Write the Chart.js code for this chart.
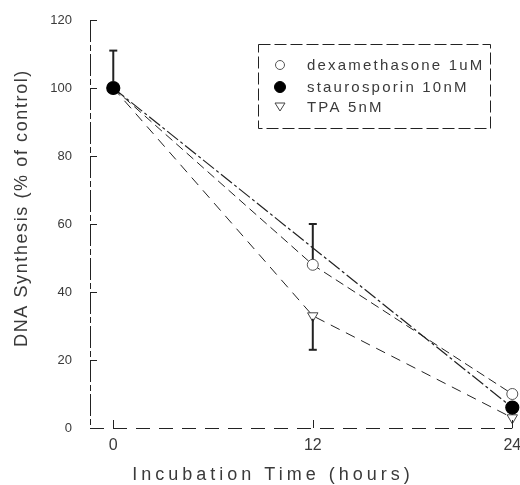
<!DOCTYPE html>
<html>
<head>
<meta charset="utf-8">
<script src="https://cdn.jsdelivr.net/npm/chart.js@4.4.1/dist/chart.umd.min.js"></script>
<style>
  html, body { margin: 0; padding: 0; background: #fff; }
  #wrap { width: 520px; height: 485px; }
</style>
</head>
<body>
<div id="wrap"><canvas id="c" width="520" height="485"></canvas></div>
<script>
// ---- data ----
const xTickValues = [0, 12, 24];
const yTickStep = 20;

const dexLabel = 'dexamethasone 1uM';
const dexHours = [0, 12, 24];
const dexValues = [100, 48, 10];
const dexErrUp = [0, 12, 0];
const dexErrDown = [0, 0, 0];

const stauroLabel = 'staurosporin 10nM';
const stauroHours = [0, 24];
const stauroValues = [100, 6];
const stauroErrUp = [11, 0];
const stauroErrDown = [0, 0];

const tpaLabel = 'TPA 5nM';
const tpaHours = [0, 12, 24];
const tpaValues = [100, 33, 3];
const tpaErrUp = [0, 0, 0];
const tpaErrDown = [0, 10, 0];

const xTitle = 'Incubation Time (hours)';
const yTitle = 'DNA Synthesis (% of control)';

const toPts = (xs, ys) => xs.map((x, i) => ({x: x, y: ys[i]}));

const INK = '#222';
const TXT = '#3a3a3a';

const datasets = [
  {
    label: stauroLabel, data: toPts(stauroHours, stauroValues),
    errUp: stauroErrUp, errDown: stauroErrDown,
    borderColor: INK, borderWidth: 1.2, borderDash: [14, 3, 3, 3],
    pointStyle: 'circle', pointRadius: 6.5, pointBackgroundColor: '#000', pointBorderColor: '#000',
    order: 0
  },
  {
    label: dexLabel, data: toPts(dexHours, dexValues),
    errUp: dexErrUp, errDown: dexErrDown,
    borderColor: INK, borderWidth: 1, borderDash: [9, 5],
    pointStyle: 'circle', pointRadius: 5.5, pointBackgroundColor: '#fff', pointBorderColor: '#555', pointBorderWidth: 1,
    order: 1
  },
  {
    label: tpaLabel, data: toPts(tpaHours, tpaValues),
    errUp: tpaErrUp, errDown: tpaErrDown,
    borderColor: INK, borderWidth: 1, borderDash: [10, 7],
    pointStyle: 'triangle', rotation: 180, pointRadius: 6, pointBackgroundColor: '#fff', pointBorderColor: '#444', pointBorderWidth: 1,
    order: 2
  }
];

const legendOrder = [1, 0, 2];

const extras = {
  id: 'extras',
  beforeDatasetsDraw(chart) {
    const ctx = chart.ctx;
    const ca = chart.chartArea;
    ctx.save();
    ctx.strokeStyle = INK; ctx.lineWidth = 1;
    // left axis (broken line)
    ctx.setLineDash([22, 3, 6, 3]);
    ctx.beginPath(); ctx.moveTo(ca.left + 0.5, ca.top); ctx.lineTo(ca.left + 0.5, ca.bottom); ctx.stroke();
    // bottom axis (dashed)
    ctx.setLineDash([14, 9]);
    ctx.beginPath(); ctx.moveTo(ca.left, ca.bottom + 0.5); ctx.lineTo(ca.right, ca.bottom + 0.5); ctx.stroke();
    ctx.restore();
  },
  afterDatasetsDraw(chart) {
    const ctx = chart.ctx;
    const xs = chart.scales.x, ys = chart.scales.y;
    const ca = chart.chartArea;
    ctx.save();
    // inward tick marks
    ctx.strokeStyle = INK; ctx.lineWidth = 1; ctx.setLineDash([]);
    ys.ticks.forEach(t => {
      const py = Math.round(ys.getPixelForValue(t.value)) + 0.5;
      ctx.beginPath(); ctx.moveTo(ca.left, py); ctx.lineTo(ca.left + 7, py); ctx.stroke();
    });
    xs.ticks.forEach(t => {
      const px = Math.round(xs.getPixelForValue(t.value)) + 0.5;
      ctx.beginPath(); ctx.moveTo(px, ca.bottom); ctx.lineTo(px, ca.bottom - 8); ctx.stroke();
    });
    // error bars
    ctx.lineWidth = 2;
    chart.data.datasets.forEach(ds => {
      ds.data.forEach((p, i) => {
        const up = ds.errUp[i], dn = ds.errDown[i];
        if (!up && !dn) return;
        const px = xs.getPixelForValue(p.x);
        const y0 = ys.getPixelForValue(p.y);
        const r = ds.pointRadius;
        if (up) {
          const y1 = ys.getPixelForValue(p.y + up);
          ctx.beginPath(); ctx.moveTo(px, y0 - r); ctx.lineTo(px, y1); ctx.stroke();
          ctx.beginPath(); ctx.moveTo(px - 4, y1); ctx.lineTo(px + 4, y1); ctx.stroke();
        }
        if (dn) {
          const y1 = ys.getPixelForValue(p.y - dn);
          ctx.beginPath(); ctx.moveTo(px, y0 + r * 0.5); ctx.lineTo(px, y1); ctx.stroke();
          ctx.beginPath(); ctx.moveTo(px - 4, y1); ctx.lineTo(px + 4, y1); ctx.stroke();
        }
      });
    });
    ctx.restore();
  },
  afterDraw(chart) {
    const ctx = chart.ctx;
    ctx.save();
    ctx.fillStyle = TXT;
    // axis titles
    ctx.font = '18px "Liberation Sans"';
    ctx.textAlign = 'center'; ctx.textBaseline = 'middle';
    ctx.letterSpacing = '4px';
    ctx.fillText(xTitle, 273, 475);
    ctx.letterSpacing = '1.6px';
    ctx.translate(22, 208); ctx.rotate(-Math.PI / 2);
    ctx.fillText(yTitle, 0, 0);
    ctx.restore();

    // legend box
    ctx.save();
    const bx = 258, by = 44, bw = 232, bh = 84;
    ctx.strokeStyle = INK; ctx.lineWidth = 1; ctx.setLineDash([12, 4]);
    ctx.strokeRect(bx + 0.5, by + 0.5, bw, bh);
    ctx.setLineDash([]);
    const rowsY = [65, 87, 107];
    ctx.font = '15px "Liberation Sans"';
    ctx.letterSpacing = '2.2px';
    ctx.textAlign = 'left'; ctx.textBaseline = 'middle'; ctx.fillStyle = TXT;
    legendOrder.forEach((di, k) => {
      const ds = chart.data.datasets[di];
      const ly = rowsY[k];
      const lx = 280;
      ctx.lineWidth = 1;
      if (ds.pointStyle === 'circle') {
        ctx.beginPath(); ctx.arc(lx, ly, ds.pointBackgroundColor === '#000' ? 5.5 : 4.5, 0, Math.PI * 2);
        ctx.fillStyle = ds.pointBackgroundColor; ctx.fill();
        ctx.strokeStyle = ds.pointBorderColor; ctx.stroke();
      } else {
        ctx.beginPath(); ctx.moveTo(lx - 5, ly - 4); ctx.lineTo(lx + 5, ly - 4); ctx.lineTo(lx, ly + 4); ctx.closePath();
        ctx.fillStyle = '#fff'; ctx.fill(); ctx.strokeStyle = '#444'; ctx.stroke();
      }
      ctx.fillStyle = TXT;
      ctx.fillText(ds.label, 307, ly + 1);
    });
    ctx.restore();
  }
};

new Chart(document.getElementById('c'), {
  type: 'line',
  data: { datasets: datasets },
  options: {
    responsive: false,
    animation: false,
    devicePixelRatio: 1,
    layout: { padding: { left: 0, top: 20, right: 7, bottom: 0 } },
    plugins: { legend: { display: false }, tooltip: { enabled: false } },
    elements: { line: { tension: 0 } },
    datasets: { line: { clip: false } },
    scales: {
      x: {
        type: 'linear', min: -1.4, max: 24,
        afterBuildTicks(s) { s.ticks = xTickValues.map(v => ({value: v})); },
        afterFit(s) { s.height = 57; s.paddingLeft = 0; s.paddingRight = 0; },
        grid: { display: false, drawTicks: false, tickLength: 0 },
        border: { display: false },
        ticks: { color: TXT, font: { family: 'Liberation Sans', size: 16 }, padding: 8, maxRotation: 0 }
      },
      y: {
        type: 'linear', min: 0, max: 120,
        ticks: { stepSize: yTickStep, color: TXT, font: { family: 'Liberation Sans', size: 13 }, padding: 10 },
        afterFit(s) { s.width = 90; s.paddingTop = 0; s.paddingBottom = 0; },
        grid: { display: false },
        border: { display: false }
      }
    }
  },
  plugins: [extras]
});
</script>
</body>
</html>
